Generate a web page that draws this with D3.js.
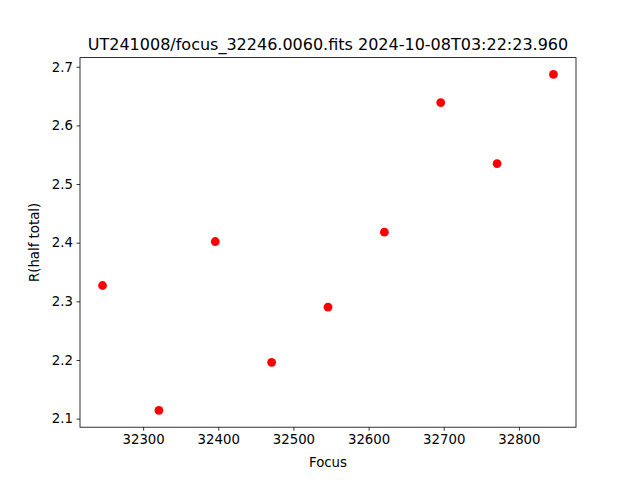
<!DOCTYPE html>
<html>
<head>
<meta charset="utf-8">
<script src="https://cdn.jsdelivr.net/npm/d3@7"></script>
<style>
  html, body { margin: 0; padding: 0; background: #fff; }
  text { font-family: "DejaVu Sans", sans-serif; fill: #000; }
</style>
</head>
<body>
<div id="chart"></div>
<script>
// ── Data ──
const focusValues = [32246, 32321, 32396, 32471, 32546, 32621, 32696, 32771, 32846];
const radiusValues = [2.327, 2.114, 2.402, 2.196, 2.290, 2.418, 2.639, 2.535, 2.687];
const xTicks = [32300, 32400, 32500, 32600, 32700, 32800];
const yTicks = [2.1, 2.2, 2.3, 2.4, 2.5, 2.6, 2.7];
const title = "UT241008/focus_32246.0060.fits 2024-10-08T03:22:23.960";

const W = 640, H = 480;
const m = { left: 80, right: 64, top: 57.6, bottom: 52.8 };

const svg = d3.select("#chart").append("svg")
    .attr("width", W).attr("height", H);

// matplotlib-style 5% margins
function padded(vals) {
    const [a, b] = d3.extent(vals);
    const p = (b - a) * 0.05;
    return [a - p, b + p];
}

const x = d3.scaleLinear().domain(padded(focusValues)).range([m.left, W - m.right]);
const y = d3.scaleLinear().domain(padded(radiusValues)).range([H - m.bottom, m.top]);

const pts = focusValues.map((f, i) => ({ f, r: radiusValues[i] }));

// ── Points ──
svg.append("g").selectAll("circle")
    .data(pts)
    .enter().append("circle")
    .attr("cx", d => x(d.f))
    .attr("cy", d => y(d.r))
    .attr("r", 4.4)
    .attr("fill", "#ff0000");

// ── Axes ──
const xAxis = svg.append("g")
    .attr("transform", `translate(0,${H - m.bottom})`)
    .call(d3.axisBottom(x).tickValues(xTicks).tickFormat(d3.format("d")).tickSize(3.5).tickPadding(3.5));

const yAxis = svg.append("g")
    .attr("transform", `translate(${m.left},0)`)
    .call(d3.axisLeft(y).tickValues(yTicks).tickFormat(d3.format(".1f")).tickSize(3.5).tickPadding(3.5));

[xAxis, yAxis].forEach(a => {
    a.selectAll("text").style("font-size", "13.3px").style("font-family", "DejaVu Sans");
    a.selectAll("line").attr("stroke", "#000").attr("stroke-width", 0.8);
    a.select(".domain").remove();
});

// frame
svg.append("rect")
    .attr("x", m.left).attr("y", m.top)
    .attr("width", W - m.left - m.right)
    .attr("height", H - m.top - m.bottom)
    .attr("fill", "none").attr("stroke", "#000").attr("stroke-width", 0.8);

// ── Labels ──
svg.append("text")
    .attr("x", (m.left + W - m.right) / 2).attr("y", 467)
    .attr("text-anchor", "middle").style("font-size", "13.3px")
    .text("Focus");

svg.append("text")
    .attr("transform", `translate(39,${(m.top + H - m.bottom) / 2}) rotate(-90)`)
    .attr("text-anchor", "middle").style("font-size", "13.3px")
    .text("R(half total)");

svg.append("text")
    .attr("x", (m.left + W - m.right) / 2).attr("y", 50)
    .attr("text-anchor", "middle").style("font-size", "16px")
    .text(title);
</script>
</body>
</html>
